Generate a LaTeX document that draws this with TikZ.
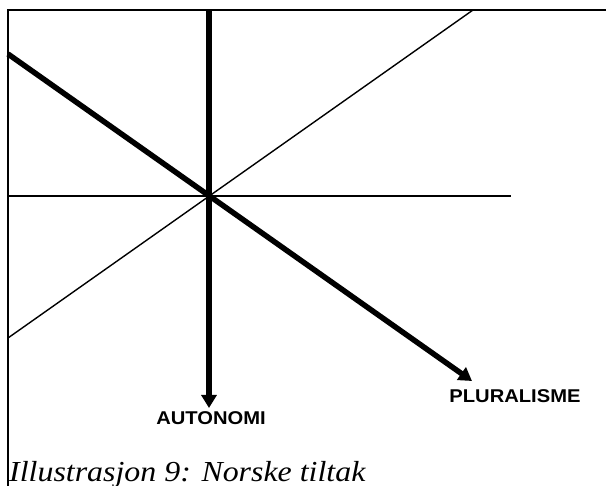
\documentclass[tikz,border=0pt]{standalone}
\usepackage{fontspec}
\setmainfont{Liberation Serif}
\newfontfamily\lsans{Liberation Sans}
\usetikzlibrary{arrows.meta}
\begin{document}
\begin{tikzpicture}[x=1pt,y=-1pt,
  frameline/.style={line width=2.5pt},
  thinline/.style={line width=1.4pt},
  thickline/.style={line width=5.5pt},
  axisarrow/.style={thickline,-{Triangle[width=15pt,length=13pt]}},
  axislabel/.style={font=\lsans\bfseries\fontsize{18.5}{20}\selectfont,xscale=1.09,inner sep=0pt},
  captionstyle/.style={font=\itshape\fontsize{29}{30}\selectfont,xscale=1.1,inner sep=0pt,anchor=base west}]
\useasboundingbox (0,0) rectangle (606,486);
% frame
\coordinate (fTL) at (8,10);
\coordinate (fTR) at (606,10);
\coordinate (fBL) at (8,486);
\draw[frameline] (fTR) -- (fTL) -- (fBL);
% points
\coordinate (c) at (209,196);
\coordinate (vTop) at (209,10);
\coordinate (vEnd) at (209,408);
\coordinate (dStart) at (8,54);
\coordinate (dEnd) at (472,381);
\coordinate (tTop) at (473,10);
\coordinate (tLeft) at (8,338);
\coordinate (hLeft) at (8,196);
\coordinate (hRight) at (511,196);
% thin lines
\draw[thinline] (hLeft) -- (hRight);
\draw[thinline] (tTop) -- (tLeft);
% thick arrows
\draw[axisarrow] (vTop) -- (vEnd);
\draw[axisarrow] (dStart) -- (dEnd);
% labels
\node[axislabel] (auto) at (211,418.5) {AUTONOMI};
\node[axislabel] (plur) at (515,396) {PLURALISME};
\node[captionstyle] (cap) at (9,481.5) {Illustrasjon 9: Norske tiltak};
\end{tikzpicture}
\end{document}
